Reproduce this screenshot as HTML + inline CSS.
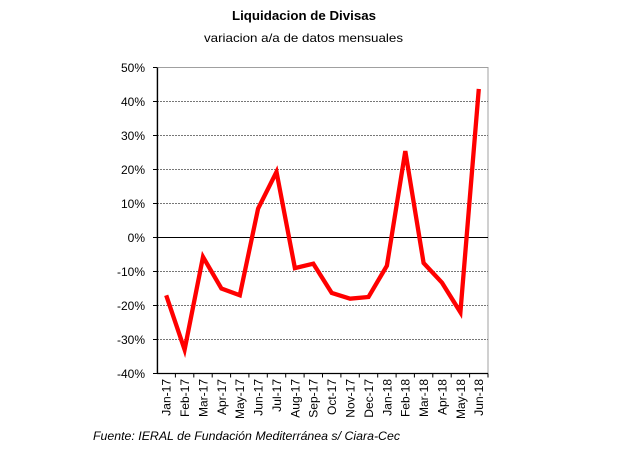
<!DOCTYPE html>
<html><head><meta charset="utf-8"><style>
html,body{margin:0;padding:0;background:#fff;}
svg{display:block;}
text{font-family:"Liberation Sans",sans-serif;fill:#000;}
</style></head><body>
<svg width="630" height="460" viewBox="0 0 630 460" xmlns="http://www.w3.org/2000/svg">
<rect width="630" height="460" fill="#fff"/>
<text x="304" y="20" font-size="13" font-weight="bold" text-anchor="middle" textLength="144" lengthAdjust="spacingAndGlyphs">Liquidacion de Divisas</text>
<text x="303.5" y="42" font-size="12" text-anchor="middle" textLength="199" lengthAdjust="spacingAndGlyphs">variacion a/a de datos mensuales</text>
<!-- plot border -->
<rect x="157" y="67.5" width="331" height="306" fill="none" stroke="#a0a0a0" stroke-width="1"/>
<!-- gridlines -->
<g stroke="#777" stroke-width="1" stroke-dasharray="2,1">
<line x1="157" x2="488" y1="101.5" y2="101.5"/>
<line x1="157" x2="488" y1="135.5" y2="135.5"/>
<line x1="157" x2="488" y1="169.5" y2="169.5"/>
<line x1="157" x2="488" y1="203.5" y2="203.5"/>
<line x1="157" x2="488" y1="271.5" y2="271.5"/>
<line x1="157" x2="488" y1="305.5" y2="305.5"/>
<line x1="157" x2="488" y1="339.5" y2="339.5"/>
</g>
<line x1="157" x2="488" y1="237.5" y2="237.5" stroke="#000" stroke-width="1"/>
<!-- axes -->
<line x1="157.5" x2="157.5" y1="67.5" y2="374" stroke="#000" stroke-width="1.3"/>
<line x1="157" x2="488" y1="373.5" y2="373.5" stroke="#000" stroke-width="1.3"/>
<g stroke="#000" stroke-width="1">
<line x1="153" x2="157" y1="67.5" y2="67.5"/>
<line x1="153" x2="157" y1="101.5" y2="101.5"/>
<line x1="153" x2="157" y1="135.5" y2="135.5"/>
<line x1="153" x2="157" y1="169.5" y2="169.5"/>
<line x1="153" x2="157" y1="203.5" y2="203.5"/>
<line x1="153" x2="157" y1="237.5" y2="237.5"/>
<line x1="153" x2="157" y1="271.5" y2="271.5"/>
<line x1="153" x2="157" y1="305.5" y2="305.5"/>
<line x1="153" x2="157" y1="339.5" y2="339.5"/>
<line x1="153" x2="157" y1="373.5" y2="373.5"/>
</g>
<g stroke="#000" stroke-width="1">
<line x1="175.4" x2="175.4" y1="373.5" y2="377.5"/>
<line x1="193.8" x2="193.8" y1="373.5" y2="377.5"/>
<line x1="212.2" x2="212.2" y1="373.5" y2="377.5"/>
<line x1="230.6" x2="230.6" y1="373.5" y2="377.5"/>
<line x1="248.9" x2="248.9" y1="373.5" y2="377.5"/>
<line x1="267.3" x2="267.3" y1="373.5" y2="377.5"/>
<line x1="285.7" x2="285.7" y1="373.5" y2="377.5"/>
<line x1="304.1" x2="304.1" y1="373.5" y2="377.5"/>
<line x1="322.5" x2="322.5" y1="373.5" y2="377.5"/>
<line x1="340.9" x2="340.9" y1="373.5" y2="377.5"/>
<line x1="359.3" x2="359.3" y1="373.5" y2="377.5"/>
<line x1="377.7" x2="377.7" y1="373.5" y2="377.5"/>
<line x1="396.1" x2="396.1" y1="373.5" y2="377.5"/>
<line x1="414.4" x2="414.4" y1="373.5" y2="377.5"/>
<line x1="432.8" x2="432.8" y1="373.5" y2="377.5"/>
<line x1="451.2" x2="451.2" y1="373.5" y2="377.5"/>
<line x1="469.6" x2="469.6" y1="373.5" y2="377.5"/>
<line x1="488" x2="488" y1="373.5" y2="377.5"/>
</g>
<!-- y labels -->
<g font-size="12" text-anchor="end">
<text x="145" y="72">50%</text>
<text x="145" y="106">40%</text>
<text x="145" y="140">30%</text>
<text x="145" y="174">20%</text>
<text x="145" y="208">10%</text>
<text x="145" y="242">0%</text>
<text x="145" y="276">-10%</text>
<text x="145" y="310">-20%</text>
<text x="145" y="344">-30%</text>
<text x="145" y="378">-40%</text>
</g>
<!-- x labels -->
<g font-size="12" text-anchor="end">
<text transform="translate(170.6,379) rotate(-90)">Jan-17</text>
<text transform="translate(189,379) rotate(-90)">Feb-17</text>
<text transform="translate(207.4,379) rotate(-90)">Mar-17</text>
<text transform="translate(225.8,379) rotate(-90)">Apr-17</text>
<text transform="translate(244.1,379) rotate(-90)">May-17</text>
<text transform="translate(262.5,379) rotate(-90)">Jun-17</text>
<text transform="translate(280.9,379) rotate(-90)">Jul-17</text>
<text transform="translate(299.3,379) rotate(-90)">Aug-17</text>
<text transform="translate(317.7,379) rotate(-90)">Sep-17</text>
<text transform="translate(336.1,379) rotate(-90)">Oct-17</text>
<text transform="translate(354.5,379) rotate(-90)">Nov-17</text>
<text transform="translate(372.9,379) rotate(-90)">Dec-17</text>
<text transform="translate(391.3,379) rotate(-90)">Jan-18</text>
<text transform="translate(409.6,379) rotate(-90)">Feb-18</text>
<text transform="translate(428,379) rotate(-90)">Mar-18</text>
<text transform="translate(446.4,379) rotate(-90)">Apr-18</text>
<text transform="translate(464.8,379) rotate(-90)">May-18</text>
<text transform="translate(483.2,379) rotate(-90)">Jun-18</text>
</g>
<!-- series -->
<polyline fill="none" stroke="#ff0000" stroke-width="4.3" stroke-linejoin="miter" stroke-linecap="butt"
points="166.2,295.3 184.6,349.7 203.0,256.9 221.4,288.5 239.8,295.3 258.1,208.6 276.5,171.9 294.9,268.1 313.3,263.7 331.7,292.9 350.1,298.7 368.5,297 386.9,265.7 405.3,151.1 423.6,263 442.0,282.7 460.4,312.3 478.8,88.9"/>
<text x="93" y="440" font-size="12" font-style="italic" textLength="307" lengthAdjust="spacingAndGlyphs">Fuente: IERAL de Fundación Mediterránea s/ Ciara-Cec</text>
</svg>
</body></html>
